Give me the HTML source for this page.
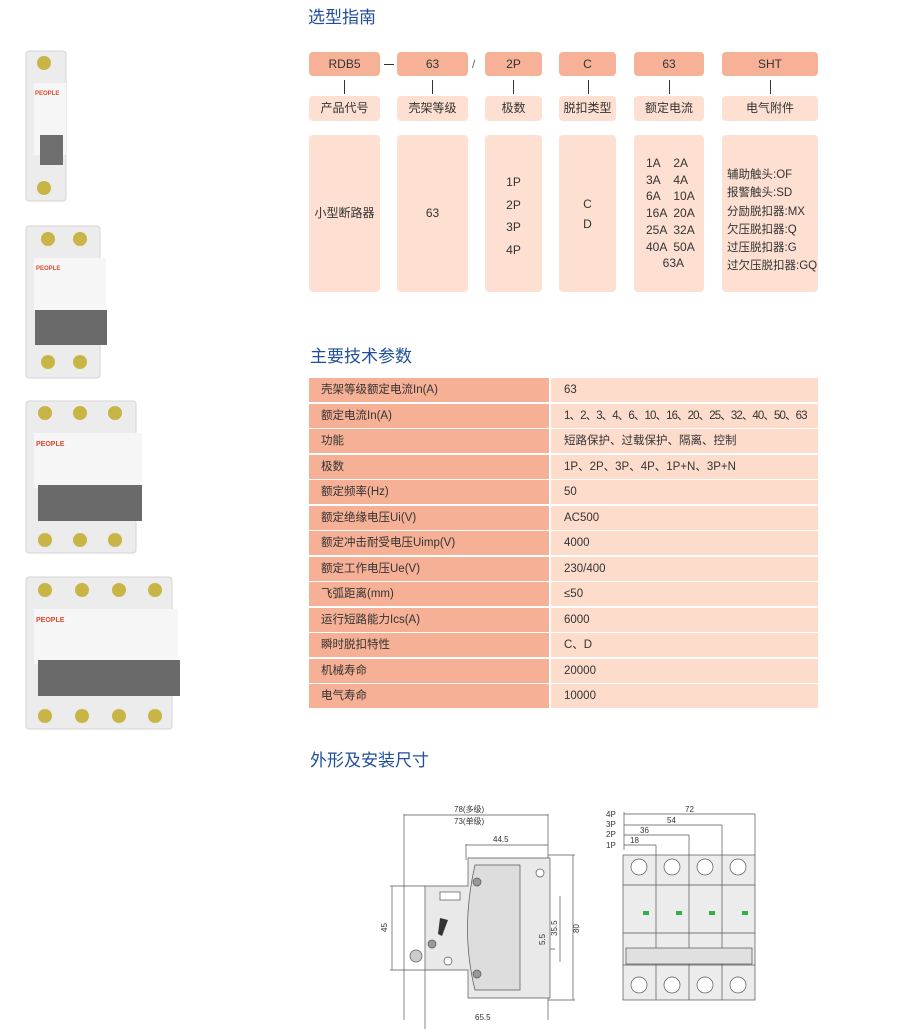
<!DOCTYPE html>
<html><head><meta charset="utf-8"><style>
body{margin:0;width:920px;height:1029px;background:#fff;position:relative;font-family:"Liberation Sans","Noto Sans CJK SC",sans-serif;overflow:hidden}
.a{position:absolute}
.h{color:#1f4e9b;font-size:17px}
.b{position:absolute;background:#f7b197;border-radius:4px;text-align:center;font-size:12px;color:#333;height:24px;line-height:24px}
.c{position:absolute;background:#fde0d2;border-radius:4px;text-align:center;font-size:12px;color:#333}
.v{position:absolute;width:1px;background:#333;top:80px;height:14px}
.r{position:absolute;left:309px;height:24px;font-size:11.5px;color:#333;line-height:24px;white-space:nowrap}
.r .l{position:absolute;left:0;width:240px;background:#f6b095;height:24px;padding-left:12px;box-sizing:border-box}
.r .x{position:absolute;left:242px;width:267px;background:#fddccc;height:24px;padding-left:13px;box-sizing:border-box}
</style></head><body>
<div class="a h" style="left:308px;top:3px">选型指南</div>
<div class="b" style="left:309px;top:52px;width:71px">RDB5</div>
<div class="a" style="left:384px;top:64px;width:10px;height:1px;background:#333"></div>
<div class="b" style="left:397px;top:52px;width:71px">63</div>
<div class="a" style="left:472px;top:57px;font-size:12px;color:#666">/</div>
<div class="b" style="left:485px;top:52px;width:57px">2P</div>
<div class="b" style="left:559px;top:52px;width:57px">C</div>
<div class="b" style="left:634px;top:52px;width:70px">63</div>
<div class="b" style="left:722px;top:52px;width:96px">SHT</div>
<div class="v" style="left:344px"></div><div class="v" style="left:432px"></div><div class="v" style="left:513px"></div><div class="v" style="left:588px"></div><div class="v" style="left:669px"></div><div class="v" style="left:770px"></div>
<div class="c" style="left:309px;top:96px;width:71px;height:25px;line-height:25px">产品代号</div>
<div class="c" style="left:397px;top:96px;width:71px;height:25px;line-height:25px">壳架等级</div>
<div class="c" style="left:485px;top:96px;width:57px;height:25px;line-height:25px">极数</div>
<div class="c" style="left:559px;top:96px;width:57px;height:25px;line-height:25px">脱扣类型</div>
<div class="c" style="left:634px;top:96px;width:70px;height:25px;line-height:25px">额定电流</div>
<div class="c" style="left:722px;top:96px;width:96px;height:25px;line-height:25px">电气附件</div>
<div class="c" style="left:309px;top:135px;width:71px;height:157px;line-height:157px">小型断路器</div>
<div class="c" style="left:397px;top:135px;width:71px;height:157px;line-height:157px">63</div>
<div class="c" style="left:485px;top:135px;width:57px;height:157px"><div style="padding-top:36px;line-height:22.5px">1P<br>2P<br>3P<br>4P</div></div>
<div class="c" style="left:559px;top:135px;width:57px;height:157px"><div style="padding-top:59px;line-height:20px">C<br>D</div></div>
<div class="c" style="left:634px;top:135px;width:70px;height:157px;text-align:left"><div style="padding:20px 0 0 12px;line-height:16.7px;white-space:pre">1A    2A
3A    4A
6A    10A
16A  20A
25A  32A
40A  50A
     63A</div></div>
<div class="c" style="left:722px;top:135px;width:96px;height:157px;text-align:left"><div style="padding:31px 0 0 5px;line-height:18.3px;font-size:11.5px;white-space:nowrap">辅助触头:OF<br>报警触头:SD<br>分励脱扣器:MX<br>欠压脱扣器:Q<br>过压脱扣器:G<br>过欠压脱扣器:GQ</div></div>

<div class="a h" style="left:310px;top:342px">主要技术参数</div>
<div class="r" style="top:378px"><div class="l">壳架等级额定电流In(A)</div><div class="x">63</div></div>
<div class="r" style="top:403.5px"><div class="l">额定电流In(A)</div><div class="x" style="letter-spacing:-0.9px">1、2、3、4、6、10、16、20、25、32、40、50、63</div></div>
<div class="r" style="top:429px"><div class="l">功能</div><div class="x">短路保护、过载保护、隔离、控制</div></div>
<div class="r" style="top:454.5px"><div class="l">极数</div><div class="x">1P、2P、3P、4P、1P+N、3P+N</div></div>
<div class="r" style="top:480px"><div class="l">额定频率(Hz)</div><div class="x">50</div></div>
<div class="r" style="top:505.5px"><div class="l">额定绝缘电压Ui(V)</div><div class="x">AC500</div></div>
<div class="r" style="top:531px"><div class="l">额定冲击耐受电压Uimp(V)</div><div class="x">4000</div></div>
<div class="r" style="top:556.5px"><div class="l">额定工作电压Ue(V)</div><div class="x">230/400</div></div>
<div class="r" style="top:582px"><div class="l">飞弧距离(mm)</div><div class="x">≤50</div></div>
<div class="r" style="top:607.5px"><div class="l">运行短路能力Ics(A)</div><div class="x">6000</div></div>
<div class="r" style="top:633px"><div class="l">瞬时脱扣特性</div><div class="x">C、D</div></div>
<div class="r" style="top:658.5px"><div class="l">机械寿命</div><div class="x">20000</div></div>
<div class="r" style="top:684px"><div class="l">电气寿命</div><div class="x">10000</div></div>

<div class="a h" style="left:310px;top:746px">外形及安装尺寸</div>

<svg class="a" style="left:0;top:0" width="200" height="740">
<rect x="26" y="51" width="40" height="150" rx="3" fill="#ececec" stroke="#d4d4d4"/>
<rect x="34" y="83" width="32" height="72" fill="#f6f6f6"/>
<text x="35" y="95" font-size="6" fill="#e04a2a" font-weight="bold" font-family="Liberation Sans">PEOPLE</text>
<rect x="40" y="135" width="23" height="30" fill="#6e6e6e"/>
<circle cx="44" cy="63" r="7" fill="#c8b545"/><circle cx="44" cy="188" r="7" fill="#c8b545"/>
<rect x="26" y="226" width="74" height="152" rx="3" fill="#ececec" stroke="#d4d4d4"/>
<rect x="34" y="258" width="72" height="55" fill="#f6f6f6"/>
<text x="36" y="270" font-size="6" fill="#e04a2a" font-weight="bold" font-family="Liberation Sans">PEOPLE</text>
<rect x="35" y="310" width="72" height="35" fill="#6a6a6a"/>
<circle cx="48" cy="239" r="7" fill="#c8b545"/><circle cx="80" cy="239" r="7" fill="#c8b545"/>
<circle cx="48" cy="362" r="7" fill="#c8b545"/><circle cx="80" cy="362" r="7" fill="#c8b545"/>
<rect x="26" y="401" width="110" height="152" rx="3" fill="#ececec" stroke="#d4d4d4"/>
<rect x="34" y="433" width="108" height="55" fill="#f6f6f6"/>
<text x="36" y="446" font-size="7" fill="#e04a2a" font-weight="bold" font-family="Liberation Sans">PEOPLE</text>
<rect x="38" y="485" width="104" height="36" fill="#6a6a6a"/>
<circle cx="45" cy="413" r="7" fill="#c8b545"/><circle cx="80" cy="413" r="7" fill="#c8b545"/><circle cx="115" cy="413" r="7" fill="#c8b545"/>
<circle cx="45" cy="540" r="7" fill="#c8b545"/><circle cx="80" cy="540" r="7" fill="#c8b545"/><circle cx="115" cy="540" r="7" fill="#c8b545"/>
<rect x="26" y="577" width="146" height="152" rx="3" fill="#ececec" stroke="#d4d4d4"/>
<rect x="34" y="609" width="144" height="55" fill="#f6f6f6"/>
<text x="36" y="622" font-size="7" fill="#e04a2a" font-weight="bold" font-family="Liberation Sans">PEOPLE</text>
<rect x="38" y="660" width="142" height="36" fill="#6a6a6a"/>
<circle cx="45" cy="590" r="7" fill="#c8b545"/><circle cx="82" cy="590" r="7" fill="#c8b545"/><circle cx="119" cy="590" r="7" fill="#c8b545"/><circle cx="155" cy="590" r="7" fill="#c8b545"/>
<circle cx="45" cy="716" r="7" fill="#c8b545"/><circle cx="82" cy="716" r="7" fill="#c8b545"/><circle cx="119" cy="716" r="7" fill="#c8b545"/><circle cx="155" cy="716" r="7" fill="#c8b545"/>
</svg>

<svg class="a" style="left:380px;top:770px" width="400" height="259" font-family="Liberation Sans" font-size="8" fill="none" stroke="#444" stroke-width="0.7">
<g stroke="#555">
<line x1="24" y1="44" x2="24" y2="250"/><line x1="168" y1="44" x2="168" y2="250"/>
<line x1="24" y1="45" x2="168" y2="45"/>
<line x1="86" y1="74" x2="86" y2="90"/><line x1="86" y1="75" x2="168" y2="75"/>
<line x1="12" y1="116" x2="12" y2="200"/><line x1="10" y1="116" x2="45" y2="116"/><line x1="10" y1="200" x2="45" y2="200"/>
<line x1="193" y1="85" x2="193" y2="230"/><line x1="168" y1="85" x2="195" y2="85"/><line x1="168" y1="230" x2="195" y2="230"/>
<line x1="180" y1="126" x2="180" y2="192"/><line x1="152" y1="179" x2="175" y2="179"/>
<line x1="45" y1="200" x2="45" y2="259"/>
</g>
<g fill="#e9e9e9" stroke="#555">
<path d="M88 88 L170 88 L170 228 L88 228 L88 200 L45 200 L45 116 L88 116 Z"/>
<path d="M95 95 Q80 160 95 220 L140 220 L140 95 Z" fill="#ddd"/>
<rect x="60" y="122" width="20" height="8" fill="#fff"/>
<circle cx="97" cy="112" r="4" fill="#999"/><circle cx="97" cy="204" r="4" fill="#999"/><circle cx="52" cy="174" r="4" fill="#999"/>
<circle cx="160" cy="103" r="4" fill="#fff"/><circle cx="68" cy="191" r="4" fill="#fff"/>
<circle cx="36" cy="186" r="6" fill="#ccc"/>
</g>
<path d="M60 148 L68 150 L62 166 L58 164 Z" fill="#333" stroke="none"/>
<g fill="#333" stroke="none" font-size="8">
<text x="74" y="42">78(多级)</text><text x="74" y="54">73(单级)</text>
<text x="113" y="72">44.5</text>
<text x="95" y="250">65.5</text>
<text transform="translate(7,162) rotate(-90)">45</text>
<text transform="translate(199,163) rotate(-90)">80</text>
<text transform="translate(177,166) rotate(-90)">35.5</text>
<text transform="translate(165,175) rotate(-90)">5.5</text>
<text x="226" y="47">4P</text><text x="226" y="57">3P</text><text x="226" y="67">2P</text><text x="226" y="78">1P</text>
<text x="305" y="42">72</text><text x="287" y="53">54</text><text x="260" y="63">36</text><text x="250" y="73">18</text>
</g>
<g stroke="#555">
<line x1="244" y1="44" x2="375" y2="44"/><line x1="375" y1="44" x2="375" y2="85"/>
<line x1="244" y1="55" x2="342" y2="55"/><line x1="342" y1="55" x2="342" y2="85"/>
<line x1="244" y1="65" x2="309" y2="65"/><line x1="309" y1="65" x2="309" y2="85"/>
<line x1="244" y1="75" x2="276" y2="75"/><line x1="276" y1="75" x2="276" y2="85"/>
<line x1="244" y1="42" x2="244" y2="80"/>
</g>
<g fill="#ececec" stroke="#555">
<rect x="243" y="85" width="132" height="145"/>
<line x1="276" y1="85" x2="276" y2="230"/><line x1="309" y1="85" x2="309" y2="230"/><line x1="342" y1="85" x2="342" y2="230"/>
<line x1="243" y1="115" x2="375" y2="115"/><line x1="243" y1="163" x2="375" y2="163"/><line x1="243" y1="195" x2="375" y2="195"/>
<rect x="246" y="178" width="126" height="16" fill="#e0e0e0"/>
<circle cx="259" cy="97" r="8" fill="#fff"/><circle cx="292" cy="97" r="8" fill="#fff"/><circle cx="325" cy="97" r="8" fill="#fff"/><circle cx="358" cy="97" r="8" fill="#fff"/>
<circle cx="259" cy="215" r="8" fill="#fff"/><circle cx="292" cy="215" r="8" fill="#fff"/><circle cx="325" cy="215" r="8" fill="#fff"/><circle cx="358" cy="215" r="8" fill="#fff"/>
</g>
<g fill="#2bb24c" stroke="none"><rect x="263" y="141" width="6" height="4"/><rect x="296" y="141" width="6" height="4"/><rect x="329" y="141" width="6" height="4"/><rect x="362" y="141" width="6" height="4"/></g>
</svg>
</body></html>
